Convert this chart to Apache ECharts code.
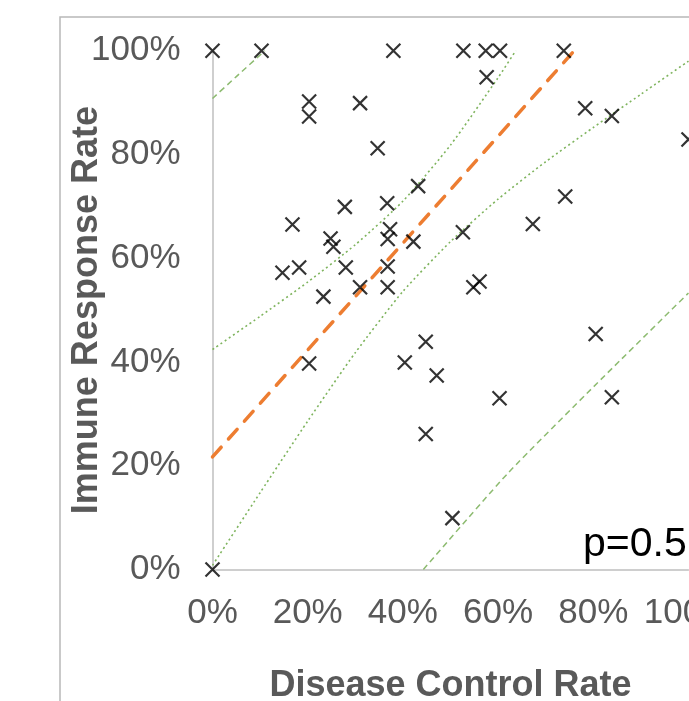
<!DOCTYPE html>
<html>
<head>
<meta charset="utf-8">
<script src="https://cdn.jsdelivr.net/npm/echarts@6/dist/echarts.min.js"></script>
<style>html,body{margin:0;padding:0;background:#fff;}#c{width:689px;height:701px;}</style>
</head>
<body>
<div id="c"></div>
<script>
// Scatter points: [disease control rate %, immune response rate %]
const diseaseControl = [0, 10.3, 38.0, 52.7, 57.4, 60.4, 73.8, 57.6, 20.3, 20.3, 31.0, 78.3, 83.9, 100, 34.7, 43.2, 74.1, 36.7, 27.8, 16.8, 67.3, 37.3, 36.8, 42.2, 52.6, 24.8, 25.4, 14.7, 18.2, 28.0, 36.8, 31.0, 36.8, 54.8, 56.1, 23.3, 80.5, 44.8, 40.4, 20.3, 47.1, 60.3, 83.9, 44.8, 50.4, 0];
const immuneResponse = [100, 100, 100, 100, 100, 100, 100, 94.9, 90.2, 87.3, 89.9, 88.9, 87.4, 82.9, 81.2, 73.9, 71.9, 70.6, 69.9, 66.5, 66.6, 65.6, 63.7, 63.2, 65.0, 63.8, 62.2, 57.2, 58.2, 58.2, 58.4, 54.4, 54.4, 54.4, 55.5, 52.6, 45.4, 43.9, 39.9, 39.7, 37.4, 33.0, 33.2, 26.1, 9.9, 0];

// Fitted trend line
const trendX = [0, 76.0];
const trendY = [21.7, 100];
// Confidence band (dotted)
const ciUpperX = [0, 10, 20, 30, 40, 50, 60, 63.7];
const ciUpperY = [42.4, 48.8, 55.4, 62.6, 71.0, 81.8, 94.8, 100];
const ciLowerX = [0, 10, 20, 30, 40, 50, 60, 70, 80, 90, 100];
const ciLowerY = [0.8, 14.8, 28.6, 41.8, 53.6, 63.2, 71.4, 78.6, 85.2, 91.6, 98.0];
// Prediction band (dashed)
const piUpperX = [0, 5, 11.0];
const piUpperY = [90.8, 95.0, 100];
const piLowerX = [44.3, 62, 80.8, 100];
const piLowerY = [0, 18.5, 35.9, 53.3];

const pTextLabel = 'p=0.5';

function pairs(xs, ys) { return xs.map((x, i) => [x / 100, ys[i] / 100]); }

const FONT = "'Liberation Sans', Arial, sans-serif";
const chart = echarts.init(document.getElementById('c'), null, { renderer: 'canvas' });

const xSym = 'path://M0,0L10,10M10,0L0,10';

chart.setOption({
  animation: false,
  backgroundColor: '#ffffff',
  grid: { left: 212.5, top: 50.7, right: 0.5, bottom: 131.5, containLabel: false, outerBoundsMode: 'none' },
  xAxis: {
    type: 'value', min: 0, max: 1, interval: 0.2,
    name: 'Disease Control Rate', nameLocation: 'middle', nameGap: 99, nameMoveOverlap: false,
    nameTextStyle: { fontFamily: FONT, fontSize: 36, fontWeight: 'bold', color: '#595959' },
    axisLine: { show: true, onZero: false, lineStyle: { color: '#bfbfbf', width: 1.5 } },
    axisTick: { show: false },
    splitLine: { show: false },
    axisLabel: { margin: 26, fontFamily: FONT, fontSize: 35, color: '#595959', hideOverlap: false,
      formatter: v => Math.round(v * 100) + '%' }
  },
  yAxis: {
    type: 'value', min: 0, max: 1, interval: 0.2,
    name: 'Immune Response Rate', nameLocation: 'middle', nameGap: 107, nameMoveOverlap: false,
    nameTextStyle: { fontFamily: FONT, fontSize: 36, fontWeight: 'bold', color: '#595959' },
    axisLine: { show: true, onZero: false, lineStyle: { color: '#bfbfbf', width: 1.5 } },
    axisTick: { show: false },
    splitLine: { show: false },
    axisLabel: { margin: 32, fontFamily: FONT, fontSize: 35, color: '#595959',
      formatter: v => Math.round(v * 100) + '%' }
  },
  graphic: [
    { type: 'rect', shape: { x: 60, y: 17, width: 2000, height: 2000 },
      style: { fill: 'none', stroke: '#b8b8b8', lineWidth: 1.5 }, z: -10, silent: true },
    { type: 'text', x: 583, y: 545, z: 100,
      style: { text: pTextLabel, fontFamily: FONT, fontSize: 41, fill: '#000', align: 'left', verticalAlign: 'middle' } }
  ],
  series: [
    { type: 'line', data: pairs(ciUpperX, ciUpperY), symbol: 'none', smooth: 0.2, z: 2,
      lineStyle: { color: '#7fb45e', width: 1.6, type: [2, 3] } },
    { type: 'line', data: pairs(ciLowerX, ciLowerY), symbol: 'none', smooth: 0.2, z: 2,
      lineStyle: { color: '#7fb45e', width: 1.6, type: [2, 3] } },
    { type: 'line', data: pairs(piUpperX, piUpperY), symbol: 'none', smooth: 0.2, z: 2,
      lineStyle: { color: '#8dbb70', width: 1.5, type: [6, 4] } },
    { type: 'line', data: pairs(piLowerX, piLowerY), symbol: 'none', smooth: 0.2, z: 2,
      lineStyle: { color: '#8dbb70', width: 1.5, type: [6, 4] } },
    { type: 'line', data: pairs(trendX, trendY), symbol: 'none', z: 3,
      lineStyle: { color: '#ed7d31', width: 3.5, type: [13, 11], cap: 'round' } },
    { type: 'scatter', data: pairs(diseaseControl, immuneResponse), z: 5,
      symbol: xSym, symbolSize: 14,
      itemStyle: { color: 'rgba(0,0,0,0)', borderColor: '#000', borderWidth: 2.2 } }
  ]
});
</script>
</body>
</html>
